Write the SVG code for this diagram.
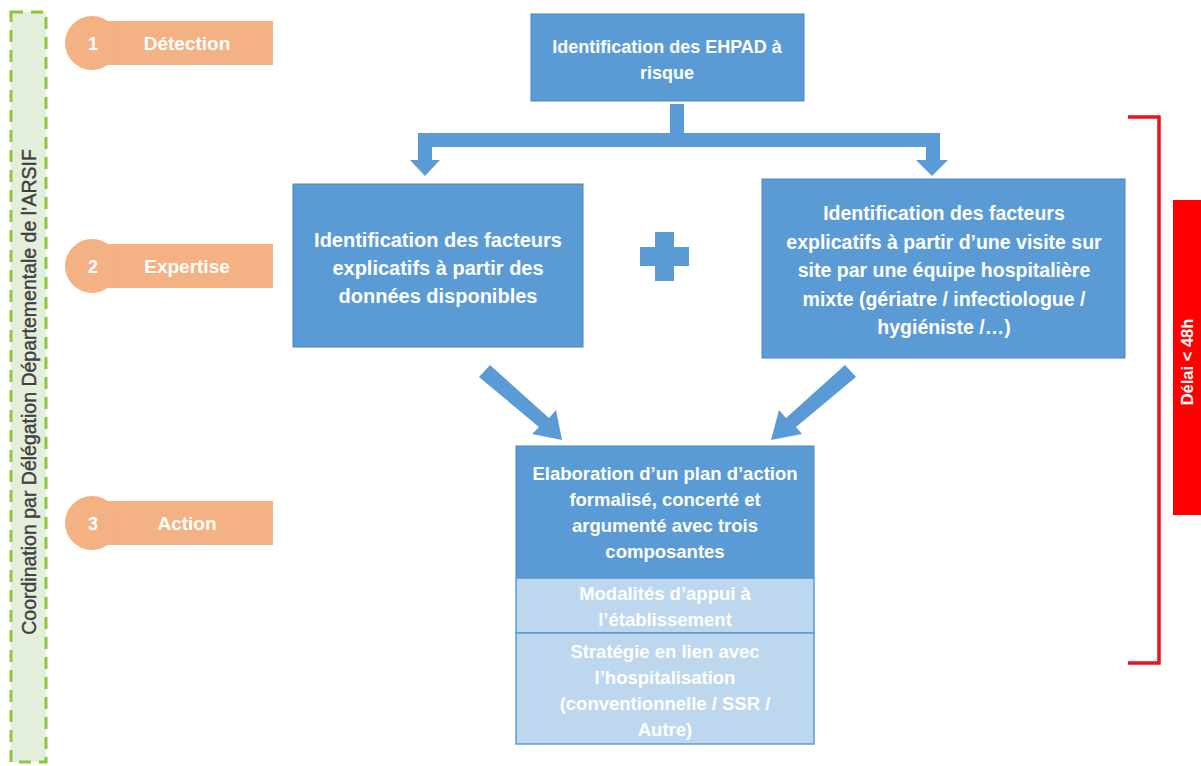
<svg xmlns="http://www.w3.org/2000/svg" width="1201" height="766" viewBox="0 0 1201 766">
<style>
.t{font-family:"Liberation Sans",Arial,sans-serif;font-weight:bold;fill:#fff;text-anchor:middle}
.box{fill:#5b9bd5;stroke:#4a86c0;stroke-width:1}
.lbox{fill:#bdd7ee;stroke:#5b9bd5;stroke-width:1.5}
.tab{fill:#f4b183}
.arr{fill:#5b9bd5}
</style>
<g id="coordination">
<rect x="11" y="12" width="35" height="750" fill="#e3eedb" stroke="#8cc63f" stroke-width="3" stroke-dasharray="12,8"/>
<text class="t" transform="translate(36,392) rotate(-90)" style="fill:#404040;font-size:19.5px;font-weight:normal;stroke:#404040;stroke-width:0.4">Coordination par Délégation Départementale de l’ARSIF</text>
</g>
<g id="tab1">
<rect class="tab" x="92" y="21" width="181" height="44"/>
<circle class="tab" cx="92" cy="43" r="27"/>
<text class="t" x="93" y="50" style="font-size:18px">1</text>
<text class="t" x="187" y="50" style="font-size:19px">Détection</text>
</g>
<g id="tab2">
<rect class="tab" x="92" y="244" width="181" height="44"/>
<circle class="tab" cx="92" cy="266" r="27"/>
<text class="t" x="93" y="273" style="font-size:18px">2</text>
<text class="t" x="187" y="273" style="font-size:19px">Expertise</text>
</g>
<g id="tab3">
<rect class="tab" x="92" y="501" width="181" height="44"/>
<circle class="tab" cx="92" cy="523" r="27"/>
<text class="t" x="93" y="530" style="font-size:18px">3</text>
<text class="t" x="187" y="530" style="font-size:19px">Action</text>
</g>
<g id="connectors">
<path class="arr" d="M670,104 H684 V133 H940 V160 H948 L932,176 L916,160 H926 V147 H432 V160 H440 L425,176 L410,160 H418 V133 H670 Z"/>
<path class="arr" d="M479,377 L490,365 L549,418 L556,410 L562,440 L532,434 L539,427 Z"/>
<path class="arr" d="M856,377 L845,365 L786,418 L779,410 L771,440 L802,434 L796,427 Z"/>
</g>
<g id="top">
<rect class="box" x="531" y="14" width="273" height="87"/>
<text class="t" x="667" y="53" style="font-size:18px">Identification des EHPAD à</text>
<text class="t" x="667" y="79" style="font-size:18px">risque</text>
</g>
<g id="left">
<rect class="box" x="293" y="184" width="290" height="163"/>
<text class="t" x="438" y="247" style="font-size:20px">Identification des facteurs</text>
<text class="t" x="438" y="275" style="font-size:20px">explicatifs à partir des</text>
<text class="t" x="438" y="303" style="font-size:20px">données disponibles</text>
</g>
<g id="plus">
<rect class="arr" x="655" y="232" width="19" height="49"/>
<rect class="arr" x="640" y="247" width="49" height="19"/>
</g>
<g id="right">
<rect class="box" x="762" y="179" width="363" height="179"/>
<text class="t" x="944" y="220" style="font-size:19.5px">Identification des facteurs</text>
<text class="t" x="944" y="249" style="font-size:19.5px">explicatifs à partir d’une visite sur</text>
<text class="t" x="944" y="277" style="font-size:19.5px">site par une équipe hospitalière</text>
<text class="t" x="944" y="306" style="font-size:19.5px">mixte (gériatre / infectiologue /</text>
<text class="t" x="944" y="334" style="font-size:19.5px">hygiéniste /…)</text>
</g>
<g id="plan">
<rect class="box" x="516" y="446" width="298" height="132"/>
<rect class="lbox" x="516" y="578" width="298" height="55"/>
<rect class="lbox" x="516" y="633" width="298" height="111"/>
<text class="t" x="665" y="480" style="font-size:18.5px">Elaboration d’un plan d’action</text>
<text class="t" x="665" y="506" style="font-size:18.5px">formalisé, concerté et</text>
<text class="t" x="665" y="532" style="font-size:18.5px">argumenté avec trois</text>
<text class="t" x="665" y="558" style="font-size:18.5px">composantes</text>
<text class="t" x="665" y="600" style="font-size:18.5px">Modalités d’appui à</text>
<text class="t" x="665" y="626" style="font-size:18.5px">l’établissement</text>
<text class="t" x="665" y="658" style="font-size:18.5px">Stratégie en lien avec</text>
<text class="t" x="665" y="684" style="font-size:18.5px">l’hospitalisation</text>
<text class="t" x="665" y="710" style="font-size:18.5px">(conventionnelle / SSR /</text>
<text class="t" x="665" y="736" style="font-size:18.5px">Autre)</text>
</g>
<g id="delai">
<path d="M1128,117 H1159 V663 H1128" fill="none" stroke="#e8141b" stroke-width="3.5"/>
<rect x="1173" y="200" width="28" height="315" fill="#ff0000"/>
<text class="t" transform="translate(1193,362) rotate(-90)" style="font-size:16.5px">Délai &lt; 48h</text>
</g>
</svg>
